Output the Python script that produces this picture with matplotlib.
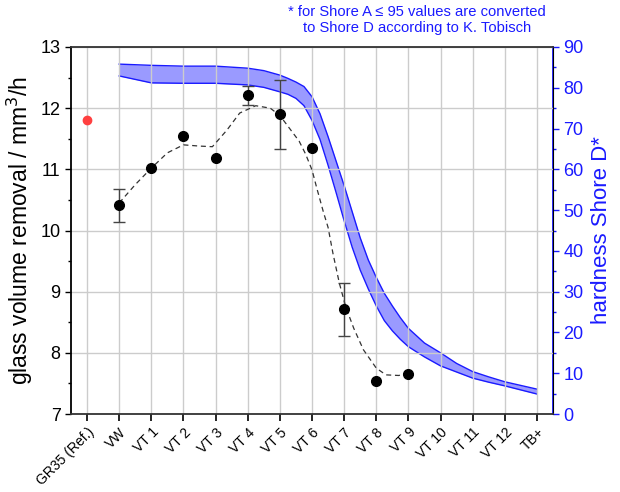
import numpy as np
import matplotlib.pyplot as plt
import matplotlib.transforms as mtransforms
from matplotlib.ticker import MultipleLocator

plt.rcParams['font.family'] = ['Liberation Sans', 'DejaVu Sans']

# sample names along x
labels = ['GR35 (Ref.)', 'VW', 'VT 1', 'VT 2', 'VT 3', 'VT 4', 'VT 5', 'VT 6',
          'VT 7', 'VT 8', 'VT 9', 'VT 10', 'VT 11', 'VT 12', 'TB+']

# glass volume removal (left axis)
ref_x = [0]
ref_y = [11.8]
meas_x = [1, 2, 3, 4, 5, 6, 7, 8, 9, 10]
meas_y = [10.41, 11.02, 11.54, 11.18, 12.21, 11.90, 11.35, 8.72, 7.54, 7.65]
err_x = [1, 5, 6, 8]
err_y = [10.41, 12.21, 11.90, 8.72]
err_lo = [0.27, 0.16, 0.56, 0.44]
err_hi = [0.27, 0.16, 0.56, 0.42]

# dashed guide line
guide_x = [1.0, 1.5, 2.0, 2.5, 3.0, 3.5, 3.9, 4.35, 4.75, 5.25, 5.7, 6.0, 6.3,
           6.6, 6.8, 7.0, 7.15, 7.35, 7.5, 7.65, 7.85, 8.05, 8.3, 8.6, 9.0,
           9.3, 9.7, 10.0]
guide_y = [10.45, 10.75, 11.02, 11.27, 11.40, 11.38, 11.37, 11.64, 11.92,
           12.04, 12.00, 11.88, 11.67, 11.46, 11.25, 10.99, 10.69, 10.31,
           10.05, 9.63, 9.14, 8.75, 8.40, 8.05, 7.75, 7.64, 7.63, 7.67]

# hardness band (right axis)
band_x = [1, 2, 3, 4, 5, 5.5, 6, 6.25, 6.5, 6.75, 7, 7.25, 7.5, 7.75, 8, 8.25,
          8.5, 8.75, 9, 9.25, 9.5, 9.75, 10, 10.5, 11, 11.5, 12, 12.5, 13,
          13.5, 14]
band_hi = [85.8, 85.5, 85.3, 85.3, 84.8, 84.2, 83.1, 82.3, 81.4, 80.3, 77.8,
           73.6, 68.0, 62.0, 56.0, 49.6, 43.2, 37.8, 33.5, 29.6, 26.5, 23.6,
           21.0, 17.4, 15.0, 12.4, 10.4, 9.1, 7.9, 7.0, 6.1]
band_lo = [82.9, 81.2, 81.1, 81.1, 80.7, 80.1, 79.0, 78.4, 77.4, 75.6, 72.0,
           67.3, 61.0, 54.3, 47.4, 40.9, 35.3, 30.7, 26.5, 22.9, 20.4, 18.3,
           16.5, 14.0, 11.8, 10.3, 8.8, 7.8, 6.9, 5.9, 4.9]

blue = '#1a1aff'

fig = plt.figure(figsize=(6.2, 4.92), dpi=100)
ax = fig.add_axes([0.1145, 0.1585, 0.7775, 0.746])
ax2 = ax.twinx()

# band on the right axis, drawn below the data
ax.set_zorder(2)
ax.patch.set_visible(False)
ax2.fill_between(band_x, band_lo, band_hi, color='#9a9aff', lw=0)
ax2.plot(band_x, band_hi, color=blue, lw=1)
ax2.plot(band_x, band_lo, color=blue, lw=1)

ax.plot(guide_x, guide_y, ls=(0, (4, 3)), color='#333333', lw=0.9, zorder=2)
ax.errorbar(err_x, err_y, yerr=[err_lo, err_hi], fmt='none', ecolor='#444444',
            elinewidth=1, capsize=4, capthick=1, zorder=3)
ax.plot(meas_x, meas_y, 'o', color='black', ms=7, zorder=4)
ax.plot(ref_x, ref_y, 'o', color='#ff4040', ms=6, zorder=4)

ax.set_xlim(-0.5, 14.5)
ax.set_ylim(7, 13)
ax2.set_ylim(0, 90)

ax.set_xticks(range(len(labels)))
ax.set_xticklabels(labels, rotation=45, ha='right', rotation_mode='anchor',
                   fontsize=10)
shift = mtransforms.ScaledTranslation(3 / 100, -2 / 100, fig.dpi_scale_trans)
for t in ax.get_xticklabels():
    t.set_transform(t.get_transform() + shift)
ax.yaxis.set_major_locator(MultipleLocator(1))
ax.yaxis.set_minor_locator(MultipleLocator(0.5))
ax2.yaxis.set_major_locator(MultipleLocator(10))
ax2.yaxis.set_minor_locator(MultipleLocator(5))

ax.grid(True, color='#cccccc', lw=1)
ax.set_axisbelow(True)

ax.tick_params(axis='y', labelsize=13, direction='out', length=4, width=1)
ax.tick_params(axis='y', which='minor', length=2.5, width=1)
ax.tick_params(axis='x', direction='out', length=5, width=1.2, pad=3)
ax2.tick_params(axis='y', labelsize=13, colors=blue, direction='out',
                length=4, width=1)
ax2.tick_params(axis='y', which='minor', colors=blue, length=2.5, width=1)

ax.set_ylabel('glass volume removal / mm$^3$/h', fontsize=16.5, labelpad=4)
ax2.set_ylabel('hardness Shore D*', fontsize=16, color=blue, labelpad=5)

for s in ['top', 'bottom']:
    ax.spines[s].set_color('#333333')
    ax.spines[s].set_linewidth(1.3)
ax.spines['left'].set_linewidth(1.3)
ax2.spines['right'].set_color(blue)
ax2.spines['right'].set_linewidth(1.3)
ax2.spines['left'].set_visible(False)
ax2.spines['top'].set_visible(False)
ax2.spines['bottom'].set_visible(False)

fig.text(0.673, 0.99, '* for Shore A \u2264 95 values are converted\nto Shore D according to K. Tobisch',
         ha='center', va='top', color=blue, fontsize=10.6, linespacing=1.2)

fig.savefig('out.png', dpi=100)
